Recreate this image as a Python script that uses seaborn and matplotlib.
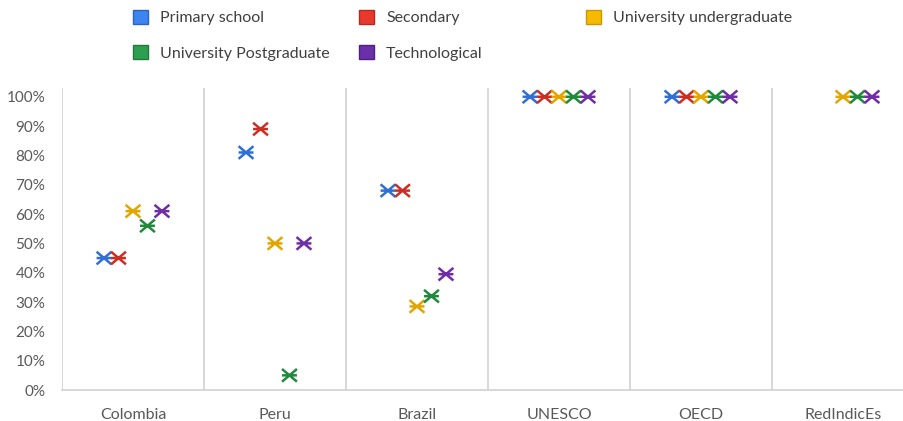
import numpy as np
import pandas as pd
import matplotlib
matplotlib.use("Agg")
import matplotlib.pyplot as plt
from matplotlib.path import Path
from matplotlib.patches import Patch
from matplotlib.ticker import PercentFormatter
import seaborn as sns

# ---- data -------------------------------------------------------------
categories = ["Colombia", "Peru", "Brazil", "UNESCO", "OECD", "RedIndicEs"]
series = ["Primary school", "Secondary", "University undergraduate",
          "University Postgraduate", "Technological"]

primary_school = [0.45, 0.81, 0.68, 1.00, 1.00, np.nan]
secondary = [0.45, 0.89, 0.68, 1.00, 1.00, np.nan]
undergraduate = [0.61, 0.50, 0.285, 1.00, 1.00, 1.00]
postgraduate = [0.56, 0.05, 0.32, 1.00, 1.00, 1.00]
technological = [0.61, 0.50, 0.395, 1.00, 1.00, 1.00]

yticks = [0.0, 0.1, 0.2, 0.3, 0.4, 0.5, 0.6, 0.7, 0.8, 0.9, 1.0]

marker_colors = ["#2f6fd6", "#cc2e24", "#e3a600", "#1f8a3c", "#6f2da6"]
legend_colors = ["#3d85f0", "#e8392e", "#f6bb00", "#2e9f50", "#6b2fa8"]
legend_edges = ["#2a63c0", "#b52a20", "#c99700", "#217a3b", "#4f1f80"]

# ---- long table -------------------------------------------------------
values = [primary_school, secondary, undergraduate, postgraduate, technological]
step = 0.102
rows = []
for s_idx, (name, vals) in enumerate(zip(series, values)):
    for c_idx, v in enumerate(vals):
        if np.isnan(v):
            continue
        rows.append({"category": categories[c_idx], "level": name,
                     "pos": c_idx + (s_idx - 2) * step, "share": v})
df = pd.DataFrame(rows)

# ---- figure -----------------------------------------------------------
sns.set_theme(style="white")
plt.rcParams["font.family"] = ["Lato", "DejaVu Sans"]

fig = plt.figure(figsize=(9.04, 4.21), dpi=100)
ax = fig.add_axes([62 / 904, 31 / 421, 852 / 904, 302 / 421])

# asterisk-like marker: X with a horizontal bar
star = Path([(-1, -0.85), (1, 0.85), (-1, 0.85), (1, -0.85), (-1, 0), (1, 0)],
            [Path.MOVETO, Path.LINETO, Path.MOVETO, Path.LINETO,
             Path.MOVETO, Path.LINETO])

sns.scatterplot(data=df, x="pos", y="share", hue="level", hue_order=series,
                palette=marker_colors, marker=star, s=115, legend=False,
                ax=ax, zorder=3)
for coll in ax.collections:
    fc = coll.get_facecolors()
    coll.set_edgecolors(fc)
    coll.set_facecolor("none")
    coll.set_linewidths(1.8)

ax.set_xlim(-0.5, len(categories) - 0.5)
ax.set_ylim(0, 1.03)
ax.set_xticks(range(len(categories)))
ax.set_xticklabels(categories)
ax.set_yticks(yticks)
ax.yaxis.set_major_formatter(PercentFormatter(1.0, decimals=0))
ax.set_xlabel("")
ax.set_ylabel("")
ax.tick_params(axis="x", length=0, pad=13, labelsize=11.5, colors="#595959")
ax.tick_params(axis="y", length=0, pad=12, labelsize=11, colors="#595959")

# category separators
for b in np.arange(-0.5, len(categories) - 0.5, 1.0):
    ax.axvline(b, color="#d4d4d4", lw=1.3, zorder=1)
for side in ["top", "right", "left"]:
    ax.spines[side].set_visible(False)
ax.spines["bottom"].set_color("#d4d4d4")
ax.spines["bottom"].set_linewidth(1.3)

# legend entries placed individually
legend_pos = [(133, 17.5), (359, 17.5), (586, 17.5), (133, 53), (359, 53)]
for name, fcol, ecol, (px, py) in zip(series, legend_colors, legend_edges, legend_pos):
    h = Patch(facecolor=fcol, edgecolor=ecol, linewidth=1.0, label=name)
    fig.legend(handles=[h], loc="center left",
               bbox_to_anchor=(px / 904, 1 - py / 421),
               frameon=False, borderpad=0, borderaxespad=0,
               handlelength=0.95, handleheight=0.95, handletextpad=0.75,
               fontsize=11.5, labelcolor="#404040")

fig.savefig("out.png", dpi=100)
